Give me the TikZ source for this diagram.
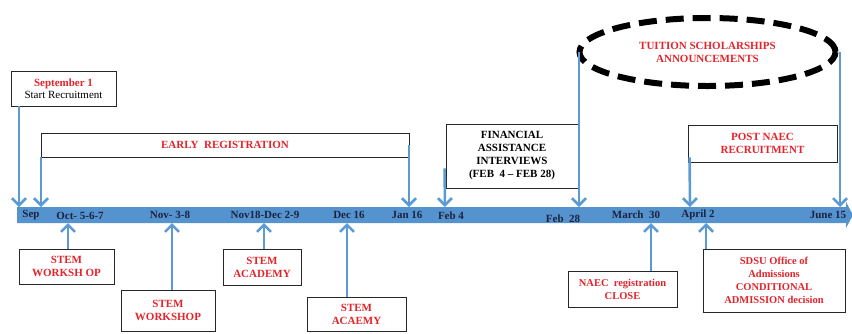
\documentclass[tikz,border=0pt]{standalone}
\usepackage{fontspec}
\setmainfont{Liberation Serif}
\usetikzlibrary{arrows.meta,shapes.geometric,calc}
\definecolor{tlblue}{HTML}{5B9BD5}
\definecolor{barblue}{HTML}{5593CF}
\definecolor{tred}{HTML}{E3242B}
\definecolor{navy}{HTML}{1C2340}
\begin{document}
\begin{tikzpicture}[x=1pt,y=-1pt,
 box/.style={draw=black!85,line width=0.8pt,fill=white,align=center,inner sep=0pt,font=\bfseries\fontsize{11}{13}\selectfont,text=tred},
 conn/.style={draw=tlblue,line width=2.6pt,-{Straight Barb[length=7pt,width=14pt]}},
 datelbl/.style={font=\bfseries\fontsize{11}{12}\selectfont,text=navy,inner sep=0pt}]
\useasboundingbox (0,0) rectangle (852,333);

% timeline bar
\fill[barblue] (17,207) -- (846,207) -- (846,202) -- (853,215) -- (846,228) -- (846,223) -- (17,223) -- cycle;
\node[inner sep=0, minimum width=829, minimum height=16] (bar) at (431.5,215) {};

% bar coordinates (top)
\coordinate (tSep) at (19,207);
\coordinate (tEarly) at (41,207);
\coordinate (tJan) at (409,207);
\coordinate (tFeb) at (445,207);
\coordinate (tFebB) at (579,207);
\coordinate (tApr) at (690,207);
\coordinate (tJun) at (840,207);
% bar coordinates (bottom)
\coordinate (bOct) at (68,223);
\coordinate (bNov) at (172,223);
\coordinate (bNovD) at (264,223);
\coordinate (bDec) at (347,223);
\coordinate (bMar) at (651,223);
\coordinate (bApr) at (706,223);

% date labels
\node[datelbl] (dSep) at (31,215) {Sep};
\node[datelbl] (dOct) at (80,216) {Oct- 5-6-7};
\node[datelbl] (dNov) at (170,215) {Nov- 3-8};
\node[datelbl] (dNovD) at (265,215) {Nov18-Dec 2-9};
\node[datelbl] (dDec) at (349,215) {Dec 16};
\node[datelbl] (dJan) at (407,215) {Jan 16};
\node[datelbl] (dFeb) at (451,216) {Feb 4};
\node[datelbl] (dFebB) at (563,219) {Feb\ \ 28};
\node[datelbl] (dMar) at (636,215) {March\ \ 30};
\node[datelbl] (dApr) at (698,215) {April 2};
\node[datelbl] (dJun) at (828,215) {June 15};

% top boxes
\node[box, minimum width=105, minimum height=35] (sep1) at (63.5,88.5)
  {September 1\\[-1pt]{\mdseries\color{black}Start Recruitment}};
\node[box, minimum width=368, minimum height=24] (early) at (225,145) {EARLY\ \ REGISTRATION};
\node[box, minimum width=132, minimum height=64, text=black] (fin) at (512,156)
  {FINANCIAL\\ASSISTANCE\\INTERVIEWS\\(FEB\ \ 4 -- FEB\ 28)};
\node[ellipse, draw=black, line width=6pt, dash pattern=on 18pt off 9pt, minimum width=256, minimum height=68,
  align=center, font=\bfseries\fontsize{11}{13}\selectfont, text=tred, inner sep=0pt] (ell) at (707.5,52)
  {TUITION\ SCHOLARSHIPS\\ANNOUNCEMENTS};
\node[box, minimum width=149, minimum height=37] (post) at (762.5,143.5) {POST NAEC\\RECRUITMENT};

% bottom boxes
\node[box, minimum width=95, minimum height=35] (w1) at (66.5,266.5) {STEM\\WORKSH OP};
\node[box, minimum width=94, minimum height=41] (w2) at (168,310.5) {STEM\\WORKSHOP};
\node[box, minimum width=78, minimum height=36] (a1) at (262,267) {STEM\\ACADEMY};
\node[box, minimum width=99, minimum height=34] (a2) at (356.5,314) {STEM\\ACAEMY};
\node[box, minimum width=109, minimum height=36, font=\bfseries\fontsize{10.5}{13}\selectfont] (naec) at (622.5,289) {NAEC\ \ registration\\CLOSE};
\node[box, minimum width=142, minimum height=63, font=\bfseries\fontsize{10.5}{13}\selectfont] (sdsu) at (774,280.5)
  {SDSU Office of\\Admissions\\CONDITIONAL\\ADMISSION decision};

% downward connectors
\draw[conn] (sep1.south west -| tSep) -- (tSep);
\draw[conn] (early.south west -| tEarly) -- (tEarly);
\draw[conn] (early.east -| tJan) -- (tJan);
\draw[conn] ($(fin.south west)+(-1,-20)$) -- (tFeb);
\draw[conn] (ell.west -| tFebB) -- (tFebB);
\draw[conn] (ell.east -| tJun) -- (tJun);
\draw[conn] ($(post.south west)+(2,-5)$) -- (tApr);

% upward connectors
\draw[conn] (w1.north -| bOct) -- (bOct);
\draw[conn] (w2.north -| bNov) -- (bNov);
\draw[conn] (a1.north -| bNovD) -- (bNovD);
\draw[conn] (a2.north -| bDec) -- (bDec);
\draw[conn] (naec.north -| bMar) -- (bMar);
\draw[conn] (sdsu.north west -| bApr) -- (bApr);
\end{tikzpicture}
\end{document}
